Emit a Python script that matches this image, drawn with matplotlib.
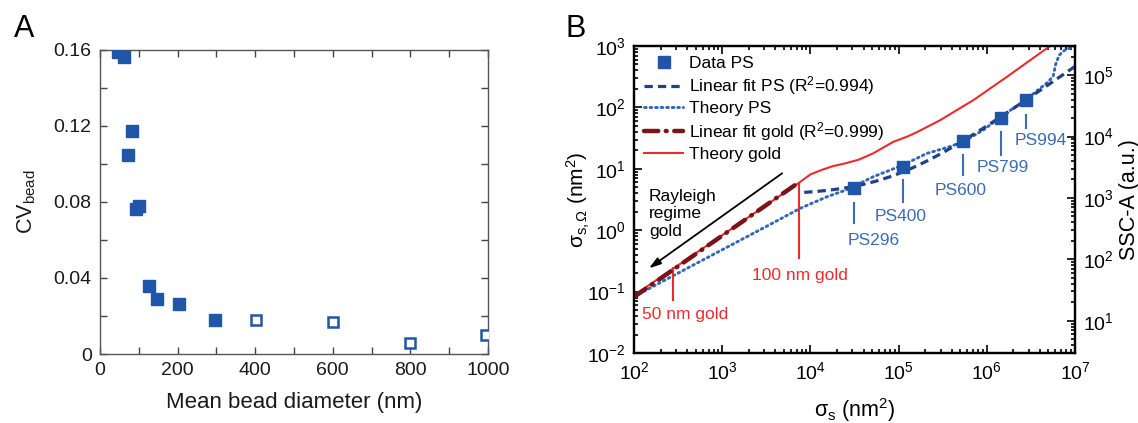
import numpy as np
import matplotlib
matplotlib.use("Agg")
import matplotlib.pyplot as plt
from matplotlib.lines import Line2D
from matplotlib.ticker import MultipleLocator, LogLocator

plt.rcParams['font.family'] = ['Liberation Sans', 'DejaVu Sans']
plt.rcParams['mathtext.fontset'] = 'custom'
plt.rcParams['mathtext.rm'] = 'Liberation Sans'
plt.rcParams['mathtext.it'] = 'Liberation Sans:italic'
plt.rcParams['mathtext.bf'] = 'Liberation Sans:bold'

# ---------------- Panel A data ----------------
diam_solid = [47, 62, 82, 71, 93, 101, 126, 148, 204, 296]
cv_solid = [0.159, 0.1565, 0.1175, 0.1047, 0.0761, 0.078, 0.0358, 0.0291, 0.0262, 0.0179]
diam_open = [401, 600, 800, 996]
cv_open = [0.0179, 0.0166, 0.0059, 0.0098]
cv_ticks = [0, 0.04, 0.08, 0.12, 0.16]
cv_tick_labels = ['0', '0.04', '0.08', '0.12', '0.16']

# ---------------- Panel B data ----------------
ps_sigma = [3.12e4, 1.13e5, 5.41e5, 1.45e6, 2.75e6]
ps_sigma_omega = [4.92, 10.8, 28.4, 67.9, 132.0]
ps_names = ["PS296", "PS400", "PS600", "PS799", "PS994"]
ps_tick_lo = [1.3, 2.9, 7.9, 16.8, 45.7]
ps_tick_hi = [2.8, 6.6, 16.8, 40.0, 75.0]
ps_label_x = [2.62e4, 5.4e4, 2.59e5, 7.7e5, 2.09e6]
ps_label_y = [0.675, 1.66, 4.35, 10.4, 28.4]

theory_ps_x = [100, 316, 1000, 3160, 7760, 15800, 26300, 51300, 112000, 209000,
               380000, 537000, 912000, 1450000, 2750000, 5010000, 5690000,
               6030000, 6610000, 7590000, 10000000]
theory_ps_y = [0.083, 0.2, 0.48, 1.15, 2.29, 3.55, 4.6, 7.4, 11.5, 17.8,
               22.9, 27.5, 42.7, 70.8, 132, 263, 331, 501, 708, 851, 1000]

theory_gold_x = [100, 282, 1000, 3160, 7410, 10000, 13200, 17800, 25100, 35500,
                 51300, 87100, 123000, 158000, 295000, 708000, 1700000, 3980000, 5500000]
theory_gold_y = [0.087, 0.24, 0.83, 2.57, 5.9, 8.1, 9.5, 11.0, 12.3, 14.1,
                 17.8, 27.5, 33.1, 38.9, 61.7, 132, 316, 759, 1050]

gold_fit_x = [100, 7400]
gold_fit_y = [0.082, 6.0]
ps_fit_start = 8.5e3
ps_fit_end = 1e7

gold_marks_x = [279, 7400]
gold_marks_lo = [0.073, 0.35]
gold_marks_hi = [0.24, 5.9]

c_blue = '#1F56A8'
c_navy = '#233F8C'
c_dot = '#2E67BC'
c_red = '#EE2B2B'
c_dred = '#7A1416'
c_lbl = '#3A6DB4'

fig = plt.figure(figsize=(11.38, 4.23), dpi=100)

# ================= Panel A =================
axA = fig.add_axes([100/1138, (423-354)/423, 388/1138, 304/423])
axA.plot(diam_solid, cv_solid, 's', color=c_blue, ms=8, mec=c_blue, zorder=3)
axA.plot(diam_open, cv_open, 's', mfc='white', mec=c_blue, mew=1.8, ms=7.5, zorder=3)
axA.set_xlim(0, 1000)
axA.set_ylim(0, 0.16)
axA.xaxis.set_major_locator(MultipleLocator(200))
axA.xaxis.set_minor_locator(MultipleLocator(100))
axA.yaxis.set_minor_locator(MultipleLocator(0.02))
axA.set_yticks(cv_ticks)
axA.set_yticklabels(cv_tick_labels)
axA.tick_params(which='both', direction='in', top=True, right=True,
                color='#444444', width=1.0)
axA.tick_params(which='major', length=5, labelsize=14, pad=6, labelcolor='#1a1a1a')
axA.tick_params(which='minor', length=5)
for s in axA.spines.values():
    s.set_color('#555555')
    s.set_linewidth(1.0)
axA.set_xlabel('Mean bead diameter (nm)', fontsize=16, color='#1a1a1a')
axA.xaxis.label.set_va('center')
axA.xaxis.set_label_coords(0.5, -0.158)
axA.set_ylabel('CV$_{\\mathrm{bead}}$', fontsize=15.5, color='#1a1a1a')
axA.yaxis.label.set_va('center')
axA.yaxis.set_label_coords(-0.19, 0.5)
fig.text(24/1138, 1 - 29/423, 'A', fontsize=22, ha='center', va='center')

# ================= Panel B =================
axB = fig.add_axes([634/1138, (423-353)/423, 441/1138, 307/423])
axB.set_xscale('log')
axB.set_yscale('log')
axB.set_xlim(1e2, 1e7)
axB.set_ylim(1e-2, 1e3)

# theory curves
axB.plot(theory_gold_x, theory_gold_y, '-', color=c_red, lw=1.5, zorder=2)
axB.plot(theory_ps_x, theory_ps_y, color=c_dot, lw=2.1, ls=(0, (0.6, 1.3)),
         dash_capstyle='round', zorder=2)
# gold linear fit
axB.plot(gold_fit_x, gold_fit_y, color=c_dred, lw=3.2, ls=(0, (3.2, 1.7, 0.2, 1.7)),
         dash_capstyle='round', zorder=3)
# PS linear fit (least squares on data)
a, b = np.polyfit(ps_sigma, ps_sigma_omega, 1)
fx = np.logspace(np.log10(ps_fit_start), np.log10(ps_fit_end), 300)
axB.plot(fx, a*fx + b, color=c_navy, lw=2.3, ls=(0, (2.6, 1.6)), zorder=3)
# data
axB.plot(ps_sigma, ps_sigma_omega, 's', color=c_blue, ms=8, zorder=4)

# gold size marks
for gx, lo, hi in zip(gold_marks_x, gold_marks_lo, gold_marks_hi):
    axB.plot([gx, gx], [lo, hi], color=c_red, lw=1.5, zorder=2)
axB.text(7.6e3, 0.186, '100 nm gold', color=c_red, fontsize=12.5, ha='center', va='center')
axB.text(123, 0.0417, '50 nm gold', color=c_red, fontsize=12.5, ha='left', va='center')

# PS marks
for px, lo, hi, nm, lx, ly in zip(ps_sigma, ps_tick_lo, ps_tick_hi, ps_names,
                                   ps_label_x, ps_label_y):
    axB.plot([px, px], [lo, hi], color=c_lbl, lw=1.5)
    axB.text(lx, ly, nm, color=c_lbl, fontsize=12.5, ha='left', va='center')

# Rayleigh arrow
axB.annotate('', xy=(10**2.17, 10**-0.62), xytext=(10**3.68, 10**0.927),
             arrowprops=dict(arrowstyle='-|>,head_width=0.22,head_length=0.7',
                             color='k', lw=1.3, shrinkA=0, shrinkB=0))
axB.text(148, 1.84, 'Rayleigh\nregime\ngold', fontsize=12.5, ha='left', va='center',
         linespacing=1.2)

axB.tick_params(which='both', direction='in', top=True, right=False, width=1.2)
axB.tick_params(which='major', length=6, labelsize=14, pad=6)
axB.tick_params(which='minor', length=3)
axB.xaxis.set_major_locator(LogLocator(base=10, numticks=10))
axB.xaxis.set_minor_locator(LogLocator(base=10, subs=np.arange(2, 10), numticks=20))
axB.yaxis.set_major_locator(LogLocator(base=10, numticks=10))
axB.yaxis.set_minor_locator(LogLocator(base=10, subs=np.arange(2, 10), numticks=20))
for s in axB.spines.values():
    s.set_linewidth(1.6)
axB.set_xlabel('σ$_{\\mathrm{s}}$ (nm$^2$)', fontsize=15.5)
axB.xaxis.label.set_va('center')
axB.xaxis.set_label_coords(0.5, -0.186)
axB.set_ylabel('σ$_{\\mathrm{s,Ω}}$ (nm$^2$)', fontsize=15)
axB.yaxis.label.set_va('center')
axB.yaxis.set_label_coords(-0.127, 0.5)

# right axis
axR = axB.twinx()
axR.set_yscale('log')
axR.set_ylim(10**0.475, 10**5.475)
axR.yaxis.set_major_locator(LogLocator(base=10, numticks=10))
axR.yaxis.set_minor_locator(LogLocator(base=10, subs=np.arange(2, 10), numticks=20))
axR.tick_params(which='both', direction='in', width=1.2)
axR.tick_params(which='major', length=6, labelsize=14, pad=6)
axR.tick_params(which='minor', length=3)
for s in axR.spines.values():
    s.set_linewidth(1.6)
axR.text(1.123, 0.5, 'SSC-A (a.u.)', fontsize=15.5, rotation=90,
         ha='center', va='center', transform=axR.transAxes)

# legend
handles = [
    Line2D([], [], marker='s', ls='none', color=c_blue, ms=8),
    Line2D([], [], color=c_navy, lw=2.3, ls=(0, (2.6, 1.6))),
    Line2D([], [], color=c_dot, lw=2.1, ls=(0, (0.6, 1.3)), dash_capstyle='round'),
    Line2D([], [], color=c_dred, lw=3.2, ls=(0, (3.2, 1.7, 0.2, 1.7)), dash_capstyle='round'),
    Line2D([], [], color=c_red, lw=1.5),
]
labels = ['Data PS', 'Linear fit PS (R$^2$=0.994)', 'Theory PS',
          'Linear fit gold (R$^2$=0.999)', 'Theory gold']
axB.legend(handles, labels, loc='upper left', bbox_to_anchor=(0.0, 1.0),
           frameon=False, fontsize=12.5, handlelength=2.3, handletextpad=0.3,
           labelspacing=0.22, borderaxespad=0.0, borderpad=0.55)

fig.text(576/1138, 1 - 29/423, 'B', fontsize=22, ha='center', va='center')

fig.savefig('out.png', dpi=100)
